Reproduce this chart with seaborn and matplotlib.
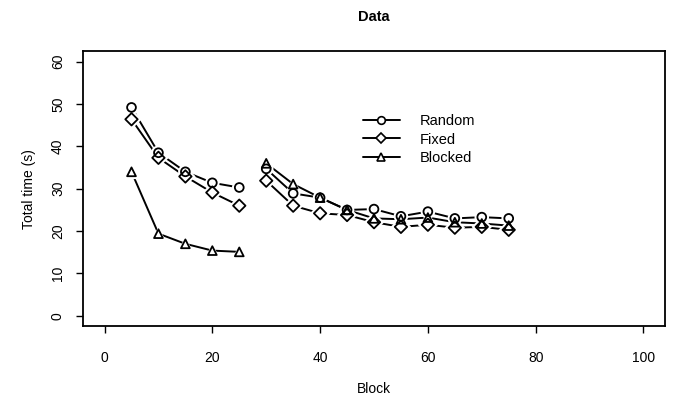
import numpy as np
import pandas as pd
import matplotlib
matplotlib.use("Agg")
import matplotlib.pyplot as plt
from matplotlib.lines import Line2D
import seaborn as sns

blocks = [5, 10, 15, 20, 25, 30, 35, 40, 45, 50, 55, 60, 65, 70, 75]
phase = [1, 1, 1, 1, 1, 2, 2, 2, 2, 2, 2, 2, 2, 2, 2]
random_t = [49.2, 38.5, 34.0, 31.4, 30.3, 34.7, 28.9, 27.9, 25.0, 25.2, 23.5, 24.6, 23.0, 23.3, 23.0]
fixed_t = [46.4, 37.3, 32.9, 29.1, 26.0, 31.9, 26.0, 24.2, 23.8, 22.1, 21.0, 21.5, 20.8, 21.0, 20.3]
blocked_t = [34.0, 19.4, 17.0, 15.4, 15.1, 36.0, 31.1, 27.9, 25.0, 23.0, 22.8, 23.2, 22.1, 21.8, 21.3]
conditions = ["Random", "Fixed", "Blocked"]
markers = {"Random": "o", "Fixed": "D", "Blocked": "^"}
xticks = [0, 20, 40, 60, 80, 100]
yticks = [0, 10, 20, 30, 40, 50, 60]

rows = []
for cond, vals in zip(conditions, [random_t, fixed_t, blocked_t]):
    for b, p, v in zip(blocks, phase, vals):
        rows.append({"Block": b, "Time": v, "Condition": cond, "Phase": p})
df = pd.DataFrame(rows)

sns.set_theme(style="white")
plt.rcParams["font.family"] = ["Liberation Sans", "DejaVu Sans"]
plt.rcParams["text.color"] = "black"
plt.rcParams["axes.labelcolor"] = "black"
plt.rcParams["xtick.color"] = "black"
plt.rcParams["ytick.color"] = "black"

fig = plt.figure(figsize=(6.75, 3.96), dpi=100)
ax = fig.add_axes([83 / 675, 70 / 396, 582 / 675, 274.5 / 396])

sns.lineplot(data=df, x="Block", y="Time", hue="Condition", units="Phase",
             estimator=None, palette={c: "black" for c in conditions},
             sort=True, lw=1.4, legend=False, ax=ax, zorder=2)
# white halos to give R "type='b'" gaps
sns.scatterplot(data=df, x="Block", y="Time", style="Condition", markers=markers,
                s=110, color="white", edgecolor="none", linewidth=0,
                legend=False, ax=ax, zorder=3)
sns.scatterplot(data=df, x="Block", y="Time", style="Condition", markers=markers,
                s=40, facecolor="none", edgecolor="black", linewidth=1.3,
                legend=False, ax=ax, zorder=4)

ax.set_xlim(-4, 104)
ax.set_ylim(-2.4, 62.4)
ax.set_xticks(xticks)
ax.set_yticks(yticks)
ax.set_yticklabels([str(t) for t in yticks], rotation=90, va="center")
ax.tick_params(axis="both", which="both", direction="out", length=5, width=1,
               color="black", labelcolor="black", labelsize=10, bottom=True, left=True)
ax.tick_params(axis="x", pad=13)
ax.tick_params(axis="y", pad=8)
for s in ax.spines.values():
    s.set_visible(True)
    s.set_color("black")
    s.set_linewidth(1.3)

ax.set_xlabel("Block", fontsize=10, labelpad=12, color="black")
ax.set_ylabel("Total time (s)", fontsize=10, labelpad=11, color="black")
ax.set_title("Data", fontsize=10.5, fontweight="bold", pad=22, color="black")

handles = [Line2D([], [], color="black", lw=1.4, marker=markers[c], markersize=5.5,
                  mfc="white", mec="black", mew=1.2) for c in conditions]
leg = ax.legend(handles, conditions, loc="upper left", bbox_to_anchor=(0.459, 0.82),
                frameon=False, fontsize=10.5, handlelength=2.5, handletextpad=1.4,
                labelspacing=0.31)
for t in leg.get_texts():
    t.set_color("black")

fig.savefig("out.png", dpi=100)
